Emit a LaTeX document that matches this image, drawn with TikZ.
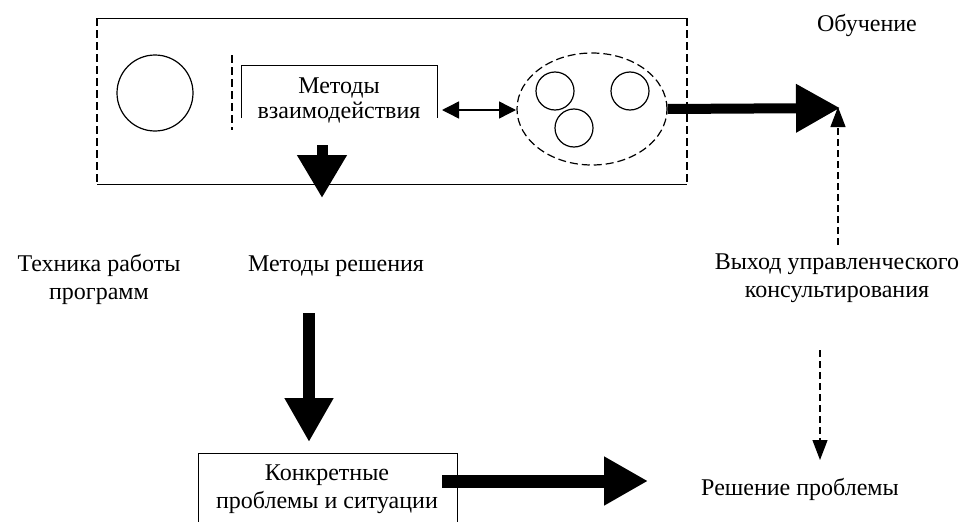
\documentclass[tikz,border=0pt]{standalone}
\usepackage{fontspec}
\setmainfont{Liberation Serif}
\usetikzlibrary{arrows.meta,shapes.geometric}
\begin{document}
\begin{tikzpicture}[x=1pt,y=-1pt,
  lbl/.style={font=\fontsize{24}{28}\selectfont, align=center, inner sep=0pt},
  blockarrow/.style={line width=#1, -{Triangle[length=44pt,width=46pt]}},
  dasharrow/.style={line width=1.2pt, dash pattern=on 7pt off 4pt, -{Triangle[length=20pt,width=15pt]}},
  thinline/.style={line width=1pt},
  dashline/.style={line width=1.2pt, dash pattern=on 8pt off 4pt},
  circ/.style={circle, draw, line width=1.2pt, inner sep=0pt, minimum size=#1}]
\useasboundingbox (0,0) rectangle (962,522);

% outer frame: top/bottom solid, left/right dashed
\coordinate (fTL) at (97,18);
\coordinate (fTR) at (687,18);
\coordinate (fBL) at (97,184);
\coordinate (fBR) at (687,184);
\draw[thinline] (fTL) -- (fTR);
\draw[thinline] (fBL) -- (fBR);
\draw[dashline] (fTL) -- (fBL);
\draw[dashline] (fTR) -- (fBR);

% left circle
\node[circ=76pt] (bigc) at (155,93) {};
% dashed separator
\coordinate (sepA) at (232,55);
\coordinate (sepB) at (232,130);
\draw[dashline] (sepA) -- (sepB);

% methods of interaction box (open at bottom)
\coordinate (mvBL) at (241,118);
\coordinate (mvTL) at (241,65);
\coordinate (mvTR) at (437,65);
\coordinate (mvBR) at (437,118);
\draw[thinline] (mvBL) -- (mvTL) -- (mvTR) -- (mvBR);
\node[lbl, font=\fontsize{24}{25}\selectfont] (mv) at (339,100) {Методы\\взаимодействия};

% dashed ellipse with circles
\node[draw, ellipse, dashline, minimum width=150pt, minimum height=112pt, inner sep=0pt] (ell) at (592,109) {};
\node[circ=38pt] (c1) at (555,91) {};
\node[circ=38pt] (c2) at (630,91) {};
\node[circ=38pt] (c3) at (574,128) {};

% double arrow
\coordinate (daL) at (442,110);
\coordinate (daR) at (516,110);
\draw[line width=1.4pt, {Triangle[length=17pt,width=17pt]}-{Triangle[length=17pt,width=17pt]}] (daL) -- (daR);

% thick arrow to learning
\coordinate (learn) at (840,108);
\draw[blockarrow=10pt] (ell.east) -- (learn);
\node[lbl] (obuch) at (867,25) {Обучение};

% small down arrow in frame
\coordinate (sdA) at (322,145);
\coordinate (sdB) at (322,198);
\draw[line width=11pt, -{Triangle[length=43pt,width=47pt]}] (sdA) -- (sdB);

% labels middle
\node[lbl] (tech) at (99,279) {Техника работы\\программ};
\node[lbl] (mr) at (336,266) {Методы решения};
\node[lbl] (vyh) at (837,278) {Выход управленческого\\консультирования};

% dashed up arrow to learning
\coordinate (upA) at (838,245);
\coordinate (upB) at (838,107);
\draw[dasharrow] (upA) -- (upB);

% big down arrow
\coordinate (bdA) at (309,313);
\coordinate (bdB) at (309,442);
\draw[blockarrow=12pt] (bdA) -- (bdB);

% concrete problems box (open at bottom)
\coordinate (kBL) at (198,522);
\coordinate (kTL) at (198,453);
\coordinate (kTR) at (457,453);
\coordinate (kBR) at (457,522);
\draw[thinline] (kBL) -- (kTL) -- (kTR) -- (kBR);
\node[lbl] (konk) at (327,489) {Конкретные\\проблемы и ситуации};

% horizontal arrow to solution
\coordinate (hA) at (442,481);
\coordinate (hB) at (648,481);
\draw[blockarrow=13pt] (hA) -- (hB);

\node[lbl] (resh) at (800,489) {Решение проблемы};

% dashed down arrow
\coordinate (ddA) at (820,350);
\coordinate (ddB) at (820,460);
\draw[dasharrow] (ddA) -- (ddB);
\end{tikzpicture}
\end{document}
